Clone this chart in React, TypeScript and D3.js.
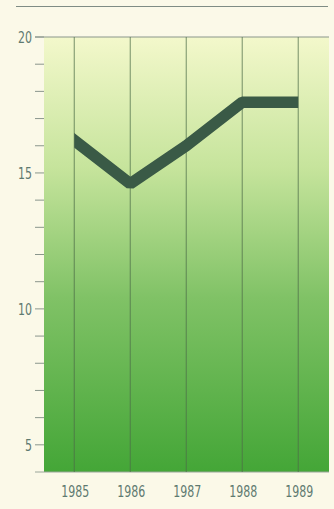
import React from "react";
import * as d3 from "d3";

// Annual series
const years = [1985, 1986, 1987, 1988, 1989];
const values = [16.2, 14.6, 16.0, 17.6, 17.6];
const yTicksLabeled = [5, 10, 15, 20];
const yTicksMinor = d3.range(5, 21, 1);

const W = 334;
const H = 509;
const margin = { left: 44, right: 5, top: 37, bottom: 37 };
const FONT = "'DejaVu Sans Condensed', 'Liberation Sans', sans-serif";
const DIGIT_W = 7; // condensed digit advance

export default function App() {
  const x = d3
    .scaleLinear()
    .domain([1984.46, 1989.55])
    .range([margin.left, W - margin.right]);
  const y = d3
    .scaleLinear()
    .domain([4, 20])
    .range([H - margin.bottom, margin.top]);

  const line = d3
    .line<number>()
    .x((_, i) => x(years[i]))
    .y((d) => y(d));

  const x0 = x.range()[0];
  const x1 = x.range()[1];
  const yTop = y(20);
  const yBot = y(4);

  return (
    <svg
      width={W}
      height={H}
      style={{ position: "absolute", left: 0, top: 0, background: "#fbf9e8" }}
    >
      <defs>
        <linearGradient id="plotFill" x1="0" y1="0" x2="0" y2="1">
          <stop offset="0" stopColor="#f3f8cb" />
          <stop offset="0.3" stopColor="#c6e49c" />
          <stop offset="0.6" stopColor="#80c266" />
          <stop offset="1" stopColor="#44a637" />
        </linearGradient>
        <clipPath id="lineClip">
          <rect x={x(years[0])} y={0} width={x(years[years.length - 1]) - x(years[0])} height={H} />
        </clipPath>
      </defs>

      {/* top rule */}
      <line x1={16} x2={328} y1={6.5} y2={6.5} stroke="#7f8c84" strokeWidth={1.2} />

      {/* plot area */}
      <rect x={x0} y={yTop} width={x1 - x0} height={yBot - yTop} fill="url(#plotFill)" />
      <line x1={x0 - 9} x2={x1} y1={yTop} y2={yTop} stroke="#8a968c" strokeWidth={1} />
      <line x1={x0 - 9} x2={x1} y1={yBot} y2={yBot} stroke="#9aa69a" strokeWidth={1} />

      {/* vertical gridlines */}
      {years.map((yr) => (
        <line
          key={yr}
          x1={x(yr)}
          x2={x(yr)}
          y1={yTop}
          y2={yBot}
          stroke="#4d6e48"
          strokeOpacity={0.75}
          strokeWidth={1}
        />
      ))}

      {/* y ticks */}
      {yTicksMinor.map((t) => (
        <line
          key={t}
          x1={x0 - 9}
          x2={x0}
          y1={y(t)}
          y2={y(t)}
          stroke="#8a968c"
          strokeWidth={1}
        />
      ))}
      {yTicksLabeled.map((t) => (
        <text
          key={t}
          x={32}
          y={y(t)}
          dy="0.36em"
          textAnchor="end"
          fontFamily={FONT}
          fontSize={16}
          fill="#5f7a70"
          textLength={String(t).length * DIGIT_W}
          lengthAdjust="spacingAndGlyphs"
        >
          {t}
        </text>
      ))}

      {/* x labels */}
      {years.map((yr) => (
        <text
          key={yr}
          x={x(yr) + 1}
          y={497}
          textAnchor="middle"
          fontFamily={FONT}
          fontSize={16}
          fill="#5f7a70"
          textLength={String(yr).length * DIGIT_W}
          lengthAdjust="spacingAndGlyphs"
        >
          {yr}
        </text>
      ))}

      {/* data line */}
      <path
        d={line(values) ?? ""}
        fill="none"
        stroke="#3a5a46"
        strokeWidth={11.5}
        strokeLinejoin="bevel"
        strokeLinecap="square"
        clipPath="url(#lineClip)"
      />
    </svg>
  );
}
